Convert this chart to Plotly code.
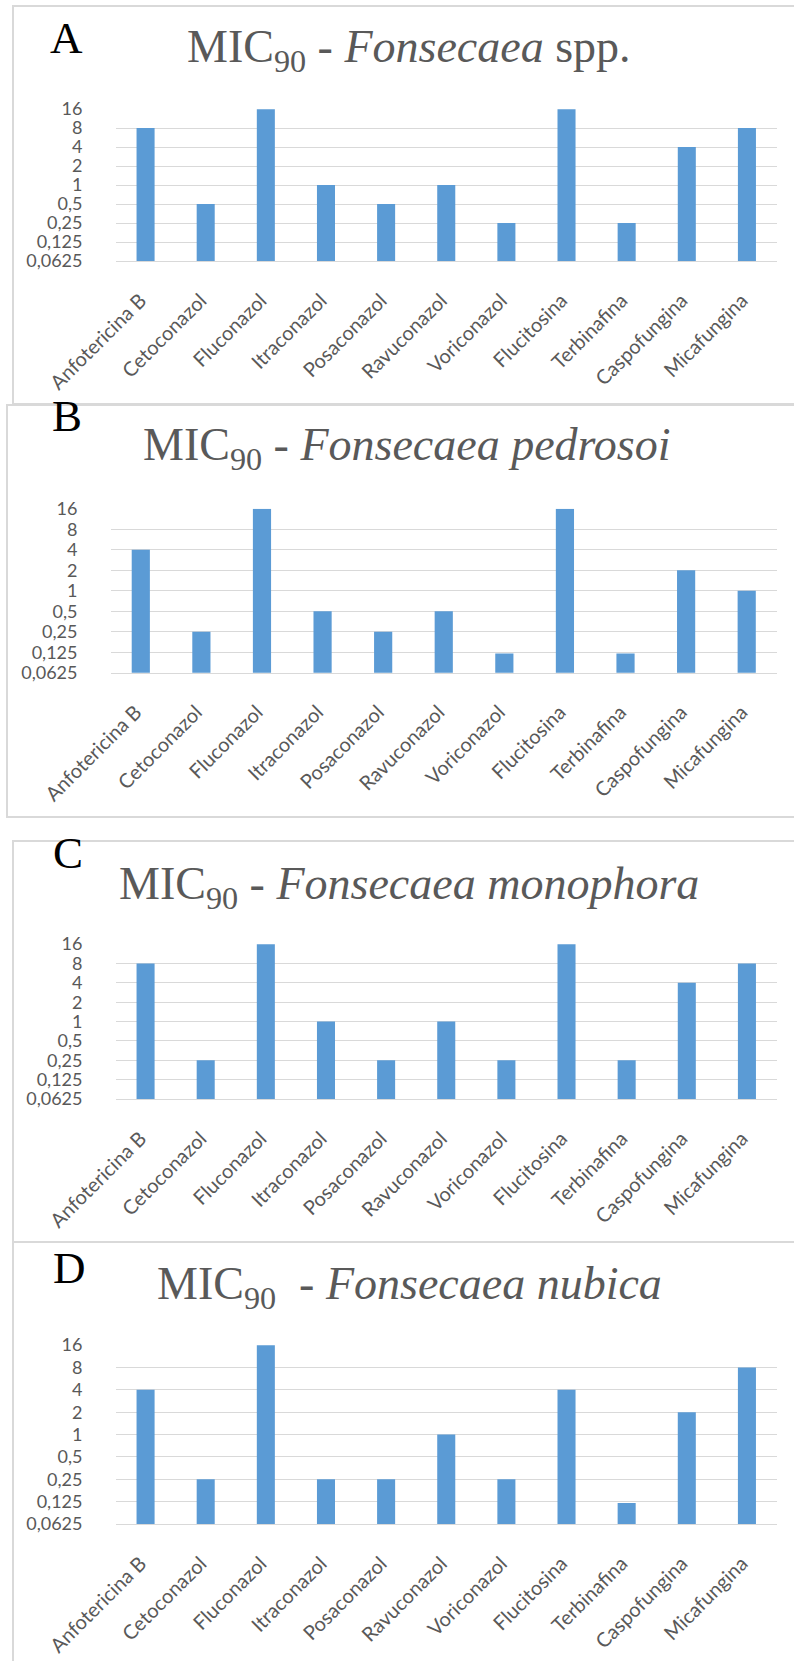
import math
import plotly.graph_objects as go

# ---------------- data ----------------
categories = ["Anfotericina B", "Cetoconazol", "Fluconazol", "Itraconazol", "Posaconazol",
              "Ravuconazol", "Voriconazol", "Flucitosina", "Terbinafina", "Caspofungina",
              "Micafungina"]
mic_spp = [8, 0.5, 16, 1, 0.5, 1, 0.25, 16, 0.25, 4, 8]
mic_pedrosoi = [4, 0.25, 16, 0.5, 0.25, 0.5, 0.12, 16, 0.12, 2, 1]
mic_monophora = [8, 0.25, 16, 1, 0.25, 1, 0.25, 16, 0.25, 4, 8]
mic_nubica = [4, 0.25, 16, 0.25, 0.25, 1, 0.25, 4, 0.12, 2, 8]
tick_vals = [0.0625, 0.125, 0.25, 0.5, 1, 2, 4, 8, 16]
tick_text = ["0,0625", "0,125", "0,25", "0,5", "1", "2", "4", "8", "16"]
titles = [
    "MIC<sub>90</sub> - <i>Fonsecaea</i> spp.",
    "MIC<sub>90</sub> - <i>Fonsecaea pedrosoi</i>",
    "MIC<sub>90</sub> - <i>Fonsecaea monophora</i>",
    "MIC<sub>90</sub> \u00a0- <i>Fonsecaea nubica</i>",
]
letters = ["A", "B", "C", "D"]
series = [mic_spp, mic_pedrosoi, mic_monophora, mic_nubica]

# ---------------- layout geometry (page pixels) ----------------
W, H = 794, 1661
plot_x = [(115.5, 777), (110.5, 777), (115.5, 777), (115.5, 777)]
plot_y = [(109, 261), (508.7, 672.7), (944, 1099), (1345, 1524)]   # (top=16, bottom=0.0625)
title_pos = [(409, 50), (406, 448), (409, 887), (409, 1287)]
letter_pos = [(66, 38), (67, 416), (68, 853), (69, 1268)]
borders = [(13, 6, 804, 404), (7, 405, 804, 817), (13, 841, 804, 1242), (13, 1242, 804, 1680)]

BAR = "#5B9BD5"
GRID = "#D9D9D9"
TXT = "#595959"


def px(x):
    return x / W


def py(y):
    return 1 - y / H


fig = go.Figure()
shapes = []
annotations = []
layout_axes = {}

for i, vals in enumerate(series):
    n = "" if i == 0 else str(i + 1)
    fig.add_trace(go.Bar(
        x=categories, y=vals, marker=dict(color=BAR, line=dict(width=0)),
        xaxis="x" + n, yaxis="y" + n, showlegend=False, hoverinfo="x+y"))
    layout_axes["xaxis" + n] = dict(
        domain=[px(plot_x[i][0]), px(plot_x[i][1])],
        anchor="y" + n, type="category", range=[-0.5, 10.5], automargin=False,
        tickangle=-45, showgrid=False, showline=True, linecolor=GRID, linewidth=1,
        ticks="", ticklabelstandoff=19, ticklabelshift=-5,
        tickfont=dict(family="Lato", size=20, color=TXT), fixedrange=True)
    layout_axes["yaxis" + n] = dict(
        domain=[py(plot_y[i][1]), py(plot_y[i][0])],
        anchor="x" + n, type="log", automargin=False,
        range=[math.log10(0.0625), math.log10(16) + 0.002],
        tickmode="array", tickvals=tick_vals, ticktext=tick_text,
        showgrid=True, gridcolor=GRID, gridwidth=1, zeroline=False, showline=False,
        ticks="", ticklabelstandoff=32,
        tickfont=dict(family="Lato", size=18, color=TXT), fixedrange=True)
    annotations.append(dict(
        text=titles[i], x=px(title_pos[i][0]), y=py(title_pos[i][1]),
        xref="paper", yref="paper", xanchor="center", yanchor="middle",
        showarrow=False, font=dict(family="Liberation Serif", size=46, color=TXT)))
    annotations.append(dict(
        text=letters[i], x=px(letter_pos[i][0]), y=py(letter_pos[i][1]),
        xref="paper", yref="paper", xanchor="center", yanchor="middle",
        showarrow=False, font=dict(family="Liberation Serif", size=45, color="#000000")))
    bx0, by0, bx1, by1 = borders[i]
    shapes.append(dict(type="rect", xref="paper", yref="paper",
                       x0=px(bx0), x1=px(bx1), y0=py(by1), y1=py(by0),
                       line=dict(color=GRID, width=2), fillcolor="rgba(0,0,0,0)", layer="below"))

fig.update_layout(
    width=W, height=H, margin=dict(l=0, r=0, t=0, b=0, autoexpand=False),
    paper_bgcolor="white", plot_bgcolor="white",
    bargap=0.7, shapes=shapes, annotations=annotations, **layout_axes)

fig.write_html("out.html", config={"displayModeBar": False},
               post_script="document.body.style.margin='0';document.body.style.overflow='hidden';")
